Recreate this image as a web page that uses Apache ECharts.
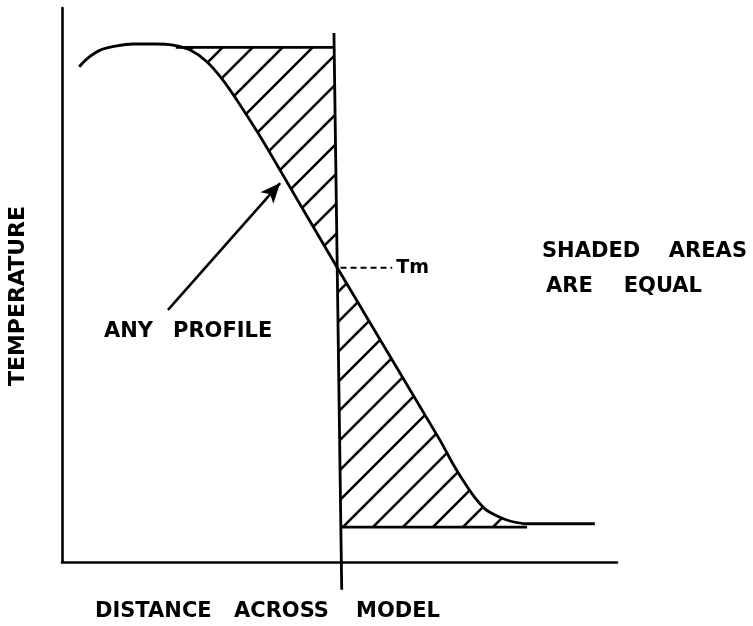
<!DOCTYPE html>
<html>
<head>
<meta charset="utf-8">
<script src="https://cdn.jsdelivr.net/npm/echarts@6/dist/echarts.min.js"></script>
<style>
  html, body { margin: 0; padding: 0; background: #fff; }
  #chart { width: 753px; height: 626px; }
</style>
</head>
<body>
<div id="chart"></div>
<script>
// temperature profile (x: distance 0-100, y: temperature 0-100)
var profileX = [3.1, 4.7, 6.9, 9.6, 12.8, 16.8, 20.0, 23.1, 26.1, 29.0, 31.5, 35.1, 37.5, 49.6, 68.1, 70.5, 72.6, 74.4, 76.2, 78.4, 80.7, 83.8, 96.0];
var profileY = [89.4, 91.0, 92.4, 93.1, 93.5, 93.5, 93.3, 92.4, 90.3, 87.0, 83.4, 77.8, 73.8, 53.1, 22.0, 17.6, 14.2, 11.6, 9.6, 8.3, 7.4, 6.9, 6.9];

// the step (sharp interface) at Tm
var stepX = [49.0, 50.4];
var stepY = [95.5, -5.0];
var topLevel = 92.9;
var topStart = 20.5;
var bottomLevel = 6.3;
var bottomEnd = 83.8;
var tmY = 53.1;
var tmDashEnd = 59.5;

// "any profile" arrow
var arrowFrom = [19.1, 45.5];
var arrowTo = [39.3, 68.4];

var black = '#000';
var font = '"DejaVu Sans", sans-serif';

function stepXAt(y) {
    return stepX[0] + (stepX[1] - stepX[0]) * (y - stepY[0]) / (stepY[1] - stepY[0]);
}

function profileAt(x) {
    for (var i = 1; i < profileX.length; i++) {
        if (x <= profileX[i]) {
            var t = (x - profileX[i - 1]) / (profileX[i] - profileX[i - 1]);
            return profileY[i - 1] + t * (profileY[i] - profileY[i - 1]);
        }
    }
    return profileY[profileY.length - 1];
}

function profileBetween(x0, x1) {
    var pts = [];
    for (var i = profileX.length - 1; i >= 0; i--) {
        if (profileX[i] > x0 && profileX[i] < x1) {
            pts.push([profileX[i], profileY[i]]);
        }
    }
    return pts;
}

function makeHatch(size, width) {
    var c = document.createElement('canvas');
    c.width = size;
    c.height = size;
    var ctx = c.getContext('2d');
    ctx.strokeStyle = black;
    ctx.lineWidth = width;
    ctx.beginPath();
    ctx.moveTo(-size * 0.2, size * 1.2);
    ctx.lineTo(size * 1.2, -size * 0.2);
    ctx.moveTo(-size * 0.2, size * 0.2);
    ctx.lineTo(size * 0.2, -size * 0.2);
    ctx.moveTo(size * 0.8, size * 1.2);
    ctx.lineTo(size * 1.2, size * 0.8);
    ctx.stroke();
    return c;
}

var tmX = stepXAt(tmY);

// the two shaded (equal) areas
var upperArea = [[topStart, topLevel], [stepXAt(topLevel), topLevel], [tmX, tmY]]
    .concat(profileBetween(topStart, tmX))
    .concat([[topStart, profileAt(topStart)]]);
var lowerArea = [[tmX, tmY], [stepXAt(bottomLevel), bottomLevel], [bottomEnd, bottomLevel]]
    .concat(profileBetween(tmX, bottomEnd));
var hatchAreas = [upperArea, lowerArea];

var hatch = { image: makeHatch(30, 2.6), repeat: 'repeat' };

var chart = echarts.init(document.getElementById('chart'));

function word(text, x, y, align, size, rotation) {
    return {
        type: 'text',
        x: x,
        y: y,
        rotation: rotation || 0,
        style: {
            text: text,
            font: 'bold ' + (size || 21) + 'px ' + font,
            fill: black,
            align: align,
            textAlign: align,
            verticalAlign: 'middle',
            textVerticalAlign: 'middle'
        }
    };
}

var option = {
    backgroundColor: '#fff',
    animation: false,
    grid: { left: 62, right: 136, top: 8, bottom: 64 },
    xAxis: {
        type: 'value',
        min: 0,
        max: 100,
        axisLine: { show: true, lineStyle: { color: black, width: 2.6 } },
        axisTick: { show: false },
        axisLabel: { show: false },
        splitLine: { show: false }
    },
    yAxis: {
        type: 'value',
        min: 0,
        max: 100,
        axisLine: { show: true, lineStyle: { color: black, width: 2.6 } },
        axisTick: { show: false },
        axisLabel: { show: false },
        splitLine: { show: false }
    },
    graphic: [
        word('TEMPERATURE', 18, 296, 'center', 22, Math.PI / 2),
        word('SHADED', 542, 252, 'left'),
        word('AREAS', 747, 252, 'right'),
        word('ARE', 546, 287, 'left'),
        word('EQUAL', 702, 287, 'right'),
        word('ANY', 153, 332, 'right'),
        word('PROFILE', 173, 332, 'left'),
        word('DISTANCE', 95, 612, 'left'),
        word('ACROSS', 234, 612, 'left'),
        word('MODEL', 356, 612, 'left')
    ],
    series: [
        {
            type: 'custom',
            silent: true,
            renderItem: function (params, api) {
                var area = hatchAreas[params.dataIndex];
                return {
                    type: 'polygon',
                    shape: { points: area.map(function (p) { return api.coord(p); }) },
                    style: { fill: hatch, stroke: null }
                };
            },
            data: [[0, 0], [0, 0]],
            z: 1
        },
        {
            name: 'profile',
            type: 'line',
            data: profileX.map(function (x, i) { return [x, profileY[i]]; }),
            smooth: 0.3,
            showSymbol: false,
            lineStyle: { color: black, width: 2.8 },
            z: 3
        },
        {
            name: 'step',
            type: 'line',
            clip: false,
            data: [[stepX[0], stepY[0]], [stepX[1], stepY[1]]],
            showSymbol: false,
            lineStyle: { color: black, width: 2.8 },
            z: 3
        },
        {
            name: 'top',
            type: 'line',
            data: [[topStart, topLevel], [stepXAt(topLevel), topLevel]],
            showSymbol: false,
            lineStyle: { color: black, width: 2.6 },
            z: 3
        },
        {
            name: 'bottom',
            type: 'line',
            data: [[stepXAt(bottomLevel), bottomLevel], [bottomEnd, bottomLevel]],
            showSymbol: false,
            lineStyle: { color: black, width: 2.6 },
            z: 3
        },
        {
            name: 'Tm',
            type: 'line',
            data: [[tmX + 0.6, tmY], [tmDashEnd, tmY]],
            showSymbol: false,
            lineStyle: { color: black, width: 2, type: [6, 4] },
            endLabel: {
                show: true,
                formatter: 'Tm',
                color: black,
                fontFamily: font,
                fontWeight: 'bold',
                fontSize: 19,
                distance: 4
            },
            markLine: {
                silent: true,
                symbol: ['none', 'arrow'],
                symbolSize: [13, 20],
                label: { show: false },
                lineStyle: { color: black, width: 2.6, type: 'solid' },
                data: [[{ coord: arrowFrom }, { coord: arrowTo }]]
            },
            z: 3
        }
    ]
};

chart.setOption(option);
</script>
</body>
</html>
